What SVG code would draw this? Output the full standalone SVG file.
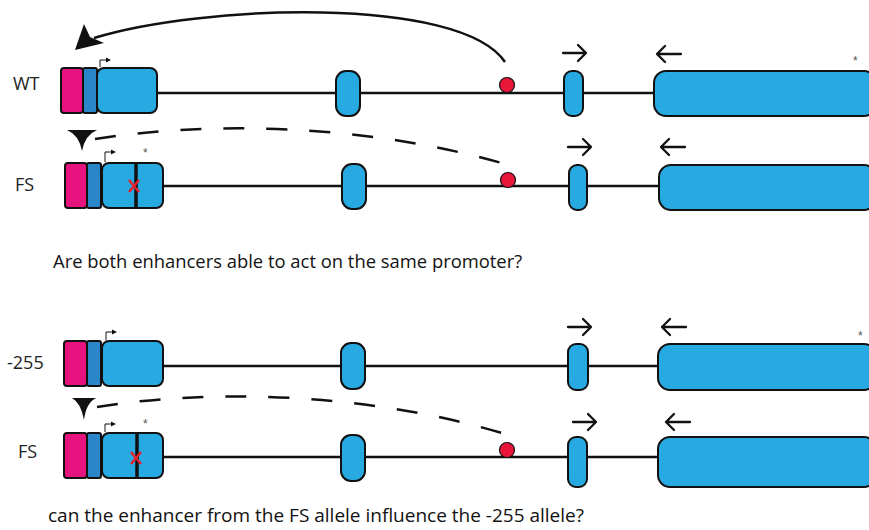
<svg xmlns="http://www.w3.org/2000/svg" width="869" height="530" viewBox="0 0 869 530">
  <defs>
    <style>
      .lbl { font-family: "Open Sans", "Liberation Sans", sans-serif; font-size: 18px; fill: #222; }
      .q { font-family: "Open Sans", "Liberation Sans", sans-serif; fill: #111; }
      .ast { font-family: "Liberation Sans", sans-serif; font-size: 12px; fill: #555; }
      .line { stroke: #111; stroke-width: 2.5; fill: none; }
      .mag { fill: #e6137f; stroke: #111; stroke-width: 2; }
      .dk { fill: #2a86c8; stroke: #111; stroke-width: 2; }
      .lb { fill: #27aae1; stroke: #111; stroke-width: 2; }
      .enh { fill: #e8173a; stroke: #111; stroke-width: 1.2; }
      .dir { stroke: #111; stroke-width: 2.3; fill: none; stroke-linecap: round; stroke-linejoin: round; }
      .tss { stroke: #111; stroke-width: 1; fill: none; }
      .x { stroke: #e8202a; stroke-width: 2.5; }
      .bar { stroke: #111; stroke-width: 3.5; }
      .dash { stroke: #111; stroke-width: 2.5; fill: none; stroke-dasharray: 21 22; }
    </style>
  </defs>

  <!-- allele labels -->
  <text class="lbl" x="13" y="90">WT</text>
  <text class="lbl" x="15" y="191">FS</text>
  <text class="lbl" x="7" y="369">-255</text>
  <text class="lbl" x="18" y="458">FS</text>

  <!-- WT allele -->
  <g id="wt">
    <line class="line" x1="157" y1="93" x2="655" y2="93"/>
    <rect class="mag" x="61" y="68" width="22" height="45" rx="3"/>
    <rect class="dk" x="83" y="68" width="14" height="45" rx="2"/>
    <rect class="lb" x="97" y="68" width="60" height="45" rx="7"/>
    <path class="tss" d="M100,67 V60 H107"/>
    <path d="M106,57.5 L111,60 L106,62.5 Z" fill="#111"/>
    <rect class="lb" x="336" y="71" width="24" height="45" rx="10"/>
    <circle class="enh" cx="507" cy="85" r="7.5"/>
    <rect class="lb" x="564" y="71" width="19" height="45" rx="8"/>
    <rect class="lb" x="654" y="71" width="222" height="45" rx="12"/>
    <path class="dir" d="M563,53 H586 M578,45 L586,53 L578,61"/>
    <path class="dir" d="M681,54 H657 M665,46 L657,54 L665,62"/>
    <text class="ast" x="853" y="65">*</text>
  </g>

  <!-- FS allele (upper) -->
  <g id="fs1">
    <line class="line" x1="163" y1="186" x2="660" y2="186"/>
    <rect class="mag" x="65" y="163" width="22" height="45" rx="3"/>
    <rect class="dk" x="87" y="163" width="14" height="45" rx="2"/>
    <rect class="lb" x="102" y="163" width="61" height="45" rx="7"/>
    <line class="bar" x1="136" y1="163" x2="136" y2="208"/>
    <path class="x" d="M129,180 L139,192 M139,180 L129,192"/>
    <path class="tss" d="M105,162 V152 H112"/>
    <path d="M111,149.5 L116,152 L111,154.5 Z" fill="#111"/>
    <text class="ast" x="143" y="157">*</text>
    <rect class="lb" x="342" y="164" width="24" height="45" rx="10"/>
    <circle class="enh" cx="508" cy="180" r="7.5"/>
    <rect class="lb" x="569" y="165" width="18" height="45" rx="8"/>
    <rect class="lb" x="659" y="165" width="217" height="45" rx="12"/>
    <path class="dir" d="M568,147 H591 M583,139 L591,147 L583,155"/>
    <path class="dir" d="M685,147 H661 M669,139 L661,147 L669,155"/>
  </g>

  <text class="q" x="53" y="268" font-size="18.4">Are both enhancers able to act on the same promoter?</text>

  <!-- -255 allele -->
  <g id="m255">
    <line class="line" x1="163" y1="366" x2="660" y2="366"/>
    <rect class="mag" x="64" y="341" width="23" height="45" rx="3"/>
    <rect class="dk" x="87" y="341" width="14" height="45" rx="2"/>
    <rect class="lb" x="102" y="341" width="61" height="45" rx="7"/>
    <path class="tss" d="M106,340 V332 H113"/>
    <path d="M112,329.5 L117,332 L112,334.5 Z" fill="#111"/>
    <rect class="lb" x="341" y="343" width="24" height="46" rx="10"/>
    <rect class="lb" x="568" y="344" width="20" height="46" rx="8"/>
    <rect class="lb" x="658" y="344" width="218" height="46" rx="12"/>
    <path class="dir" d="M568,327 H591 M583,319 L591,327 L583,335"/>
    <path class="dir" d="M686,327 H662 M670,319 L662,327 L670,335"/>
    <text class="ast" x="858" y="340">*</text>
  </g>

  <!-- FS allele (lower) -->
  <g id="fs2">
    <line class="line" x1="163" y1="457" x2="660" y2="457"/>
    <rect class="mag" x="64" y="433" width="23" height="45" rx="3"/>
    <rect class="dk" x="87" y="433" width="14" height="45" rx="2"/>
    <rect class="lb" x="102" y="433" width="61" height="45" rx="7"/>
    <line class="bar" x1="137" y1="433" x2="137" y2="478"/>
    <path class="x" d="M131,452 L141,464 M141,452 L131,464"/>
    <path class="tss" d="M105,432 V424 H112"/>
    <path d="M111,421.5 L116,424 L111,426.5 Z" fill="#111"/>
    <text class="ast" x="143" y="428">*</text>
    <rect class="lb" x="341" y="435" width="24" height="46" rx="10"/>
    <circle class="enh" cx="507" cy="450" r="7.5"/>
    <rect class="lb" x="568" y="437" width="19" height="50" rx="8"/>
    <rect class="lb" x="658" y="437" width="218" height="50" rx="12"/>
    <path class="dir" d="M573,422 H596 M588,414 L596,422 L588,430"/>
    <path class="dir" d="M690,422 H666 M674,414 L666,422 L674,430"/>
  </g>

  <text class="q" x="48" y="522" font-size="19">can the enhancer from the FS allele influence the -255 allele?</text>

  <!-- enhancer–promoter interactions -->
  <g id="connectors">
    <path class="line" d="M505,62 C460,-5 200,5 94,38"/>
    <path d="M75,50 L84,24 L90,37 L104,43 Z" fill="#111"/>
    <path class="dash" d="M95,139 C200,122 360,122 505,164"/>
    <path d="M67,130 L97,130 Q85,135 82,151 Q79,135 67,130 Z" fill="#111"/>
    <path class="dash" d="M97,407 C200,390 360,390 505,434"/>
    <path d="M72,398 L96,398 Q86,403 84,420 Q81,403 72,398 Z" fill="#111"/>
  </g>
</svg>
